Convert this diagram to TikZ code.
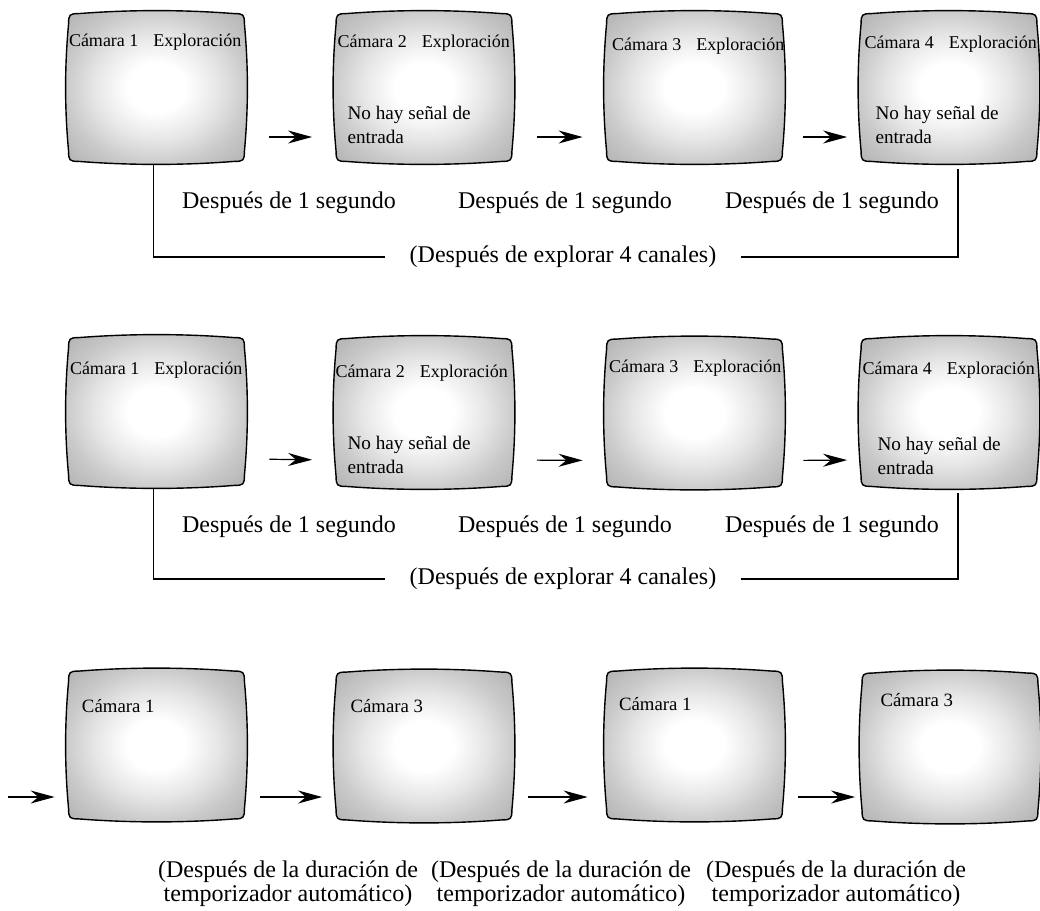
\documentclass[tikz,border=0pt]{standalone}
\usepackage{fontspec}
\setmainfont{Liberation Serif}
\usepackage{tikz}
\usetikzlibrary{arrows.meta}
\usetikzlibrary{calc}
\usepackage{xcolor}

% grey tube with a bright middle (path box = inner 50bp square)
\pgfdeclareradialshading{crtglow}{\pgfpoint{0bp}{0bp}}{%
  color(0bp)=(white); color(8bp)=(white); color(17bp)=(black!10);
  color(25bp)=(black!21); color(35bp)=(black!31); color(50bp)=(black!31)}

% bulging monitor outline round a screen node
\newcommand{\crtframe}[1]{%
  \shade[shading=crtglow, draw=black, line width=0.7pt]
    ($(#1.north west)+(3,13)$) .. controls +(0,-9) and +(-9,0) .. ($(#1.north west)+(13,3)$)
    .. controls ($(#1.north)+(-26,-1)$) and ($(#1.north)+(26,-1)$) .. ($(#1.north east)+(-13,3)$)
    .. controls +(9,0) and +(0,-9) .. ($(#1.north east)+(-3,13)$)
    .. controls ($(#1.east)+(1,-21)$) and ($(#1.east)+(1,21)$) .. ($(#1.south east)+(-3,-13)$)
    .. controls +(0,9) and +(9,0) .. ($(#1.south east)+(-13,-3)$)
    .. controls ($(#1.south)+(26,1)$) and ($(#1.south)+(-26,1)$) .. ($(#1.south west)+(13,-3)$)
    .. controls +(-9,0) and +(0,9) .. ($(#1.south west)+(3,-13)$)
    .. controls ($(#1.west)+(-1,21)$) and ($(#1.west)+(-1,-21)$) .. ($(#1.north west)+(3,13)$)
    -- cycle;}

\begin{document}
\begin{tikzpicture}[x=0.5pt,y=-0.5pt,
    screen/.style={minimum width=90.5pt, minimum height=76.5pt, inner sep=0pt},
    camcap/.style={anchor=base west, inner sep=0pt, font=\fontsize{9}{11}\selectfont},
    camcapb/.style={anchor=base west, inner sep=0pt, font=\fontsize{9.4}{11}\selectfont},
    msg/.style={anchor=north west, inner sep=0pt, align=left, font=\fontsize{9.6}{12}\selectfont},
    lbl/.style={anchor=base, inner sep=0pt, font=\fontsize{12}{14}\selectfont},
    scannote/.style={inner xsep=12pt, inner ysep=0pt, font=\fontsize{12}{14}\selectfont},
    timer/.style={align=center, inner sep=0pt, font=\fontsize{12}{11.8}\selectfont},
    flow/.style={-{Stealth[length=12pt,width=6.5pt]}, line width=0.6pt, shorten <=11pt, shorten >=10.5pt},
    link/.style={line width=0.6pt}]

  \useasboundingbox (0,0) rectangle (1040,911);

  % ---- first scan sequence
  \node[screen] (r1s1) at (156.5,87.5) {};
  \node[screen] (r1s2) at (424,87.5) {};
  \node[screen] (r1s3) at (694.5,87.5) {};
  \node[screen] (r1s4) at (949,87.5) {};
  \crtframe{r1s1} \crtframe{r1s2} \crtframe{r1s3} \crtframe{r1s4}

  \node[camcap] (r1c1) at ($(r1s1.north west)+(3,36)$) {Cámara 1\hspace{7.5pt}Exploración};
  \node[camcap] (r1c2) at ($(r1s2.north west)+(4,37)$) {Cámara 2\hspace{7.5pt}Exploración};
  \node[camcap] (r1c3) at ($(r1s3.north west)+(8,40)$) {Cámara 3\hspace{7.5pt}Exploración};
  \node[camcap] (r1c4) at ($(r1s4.north west)+(6,38)$) {Cámara 4\hspace{7.5pt}Exploración};
  \node[msg] (r1m2) at ($(r1s2.north west)+(14,95)$) {No hay señal de\\entrada};
  \node[msg] (r1m4) at ($(r1s4.north west)+(17,95)$) {No hay señal de\\entrada};

  \draw[flow] ($(r1s1.east)+(0,49.5)$) -- ($(r1s2.west)+(0,49.5)$);
  \draw[flow] ($(r1s2.east)+(0,49.5)$) -- ($(r1s3.west)+(0,49.5)$);
  \draw[flow, shorten <=9pt, shorten >=5.5pt] ($(r1s3.east)+(0,49.5)$) -- ($(r1s4.west)+(0,49.5)$);

  \node[lbl] (r1d1) at (289,208) {Después de 1 segundo};
  \node[lbl] (r1d2) at (565,208) {Después de 1 segundo};
  \node[lbl] (r1d3) at (832,208) {Después de 1 segundo};

  % loop back after all channels
  \node[scannote] (r1n) at (563,257) {(Después de explorar 4 canales)};
  \draw[link] ($(r1s1.south)+(-3,0)$) |- (r1n.west);
  \draw[link] (r1n.east) -| ($(r1s4.south)+(9,5)$);

  % ---- second scan sequence
  \node[screen] (r2s1) at (156.5,411.5) {};
  \node[screen] (r2s2) at (424,412.5) {};
  \node[screen] (r2s3) at (694.5,413) {};
  \node[screen] (r2s4) at (949,412.5) {};
  \crtframe{r2s1} \crtframe{r2s2} \crtframe{r2s3} \crtframe{r2s4}

  \node[camcap] (r2c1) at ($(r2s1.north west)+(4,40)$) {Cámara 1\hspace{7.5pt}Exploración};
  \node[camcap] (r2c2) at ($(r2s2.north west)+(2,42)$) {Cámara 2\hspace{7.5pt}Exploración};
  \node[camcap] (r2c3) at ($(r2s3.north west)+(5,36)$) {Cámara 3\hspace{7.5pt}Exploración};
  \node[camcap] (r2c4) at ($(r2s4.north west)+(4,39)$) {Cámara 4\hspace{7.5pt}Exploración};
  \node[msg] (r2m2) at ($(r2s2.north west)+(14,100)$) {No hay señal de\\entrada};
  \node[msg] (r2m4) at ($(r2s4.north west)+(19,101)$) {No hay señal de\\entrada};

  \draw[flow] ($(r2s1.east)+(0,47.5)$) -- ($(r2s2.west)+(0,47.5)$);
  \draw[flow] ($(r2s2.east)+(0,47.5)$) -- ($(r2s3.west)+(0,47.5)$);
  \draw[flow, shorten <=9pt, shorten >=5.5pt] ($(r2s3.east)+(0,47.5)$) -- ($(r2s4.west)+(0,47.5)$);

  \node[lbl] (r2d1) at (289,532) {Después de 1 segundo};
  \node[lbl] (r2d2) at (565,532) {Después de 1 segundo};
  \node[lbl] (r2d3) at (832,532) {Después de 1 segundo};

  \node[scannote] (r2n) at (563,579) {(Después de explorar 4 canales)};
  \draw[link] ($(r2s1.south)+(-3,0)$) |- (r2n.west);
  \draw[link] (r2n.east) -| ($(r2s4.south)+(9,4)$);

  % ---- auto timer sequence
  \node[screen] (r3s1) at (156.5,745) {};
  \node[screen] (r3s2) at (424,746) {};
  \node[screen] (r3s3) at (694.5,745) {};
  \node[screen] (r3s4) at (950,747) {};
  \crtframe{r3s1} \crtframe{r3s2} \crtframe{r3s3} \crtframe{r3s4}

  \node[camcapb] (r3c1) at ($(r3s1.north west)+(16,44)$) {Cámara 1};
  \node[camcapb] (r3c2) at ($(r3s2.north west)+(17,43)$) {Cámara 3};
  \node[camcapb] (r3c3) at ($(r3s3.north west)+(15,42)$) {Cámara 1};
  \node[camcapb] (r3c4) at ($(r3s4.north west)+(21,36)$) {Cámara 3};

  \coordinate (r3in) at (8,797);
  \draw[flow, shorten <=0pt, shorten >=5.5pt] (r3in) -- ($(r3s1.west)+(0,52)$);
  \draw[flow, shorten <=6.5pt, shorten >=5.5pt] ($(r3s1.east)+(0,52)$) -- ($(r3s2.west)+(0,51)$);
  \draw[flow, shorten <=6.5pt, shorten >=8pt] ($(r3s2.east)+(0,51)$) -- ($(r3s3.west)+(0,52)$);
  \draw[flow, shorten <=6.5pt, shorten >=2pt] ($(r3s3.east)+(0,52)$) -- ($(r3s4.west)+(0,50)$);

  \node[timer] (r3t1) at (288,884) {(Después de la duración de\\temporizador automático)};
  \node[timer] (r3t2) at (561,884) {(Después de la duración de\\temporizador automático)};
  \node[timer] (r3t3) at (836,884) {(Después de la duración de\\temporizador automático)};

\end{tikzpicture}
\end{document}
